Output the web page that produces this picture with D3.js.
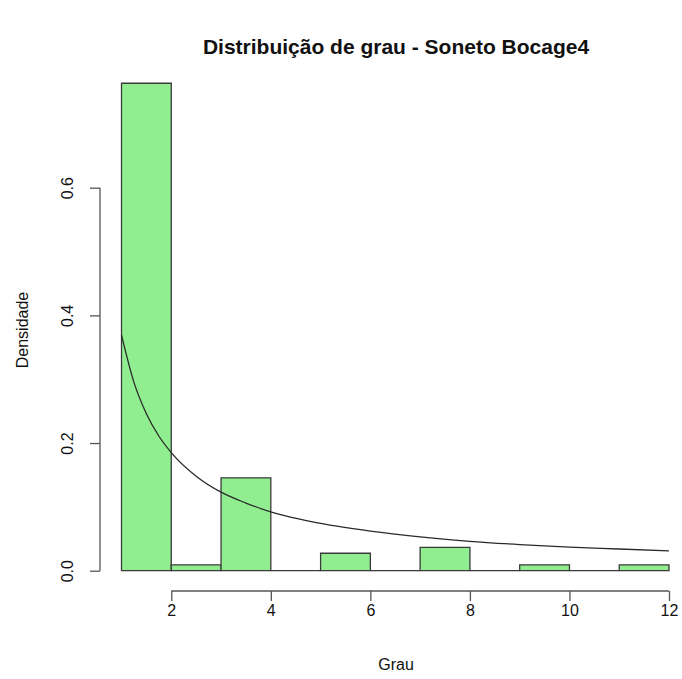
<!DOCTYPE html>
<html>
<head>
<meta charset="utf-8">
<script src="https://cdn.jsdelivr.net/npm/d3@7"></script>
<style>
  body { margin: 0; background: #fff; }
  text { font-family: "Liberation Sans", Arial, sans-serif; fill: #111; }
</style>
</head>
<body>
<div class="canvas"></div>
<script>
// histogram bins (grau) and densities
const binStarts = [1, 2, 3, 4, 5, 6, 7, 8, 9, 10, 11];
const binEnds   = [2, 3, 4, 5, 6, 7, 8, 9, 10, 11, 12];
const densities = [0.7636, 0.0091, 0.1455, 0, 0.0273, 0, 0.0364, 0, 0.0091, 0, 0.0091];

// fitted curve
const curveX = [1, 1.25, 1.5, 1.75, 2, 2.5, 3, 3.5, 4, 5, 6, 7, 8, 9, 10, 11, 12];
const curveY = [0.369, 0.295, 0.246, 0.211, 0.185, 0.148, 0.123, 0.106, 0.092, 0.074, 0.062, 0.053, 0.046, 0.041, 0.037, 0.034, 0.031];

const xTicks = [2, 4, 6, 8, 10, 12];
const yTicks = [0.0, 0.2, 0.4, 0.6];

const width = 682, height = 679;
const font = '"Liberation Sans", Arial, sans-serif';

const svg = d3.select('.canvas')
  .append('svg')
   .attr('width', width)
   .attr('height', height);

const x = d3.scaleLinear()
  .domain([1, 12])
  .range([121.5, 669]);

const y = d3.scaleLinear()
  .domain([0, 0.6])
  .range([570.7, 187.7]);

//bars (drawn as paths so empty bins still show their bottom edge)
const bins = binStarts.map((s, i) => ({ x0: s, x1: binEnds[i], d: densities[i] }));
svg.append('g')
  .selectAll('path')
  .data(bins)
  .enter().append('path')
    .attr('d', b => `M${x(b.x0)},${y(0)}V${y(b.d)}H${x(b.x1)}V${y(0)}Z`)
    .attr('fill', '#90ee90')
    .attr('stroke', '#3a3a3a')
    .attr('stroke-width', 1.3);

//curve
const line = d3.line()
  .x((d, i) => x(curveX[i]))
  .y(d => y(d))
  .curve(d3.curveMonotoneX);

svg.append('path')
  .datum(curveY)
  .attr('fill', 'none')
  .attr('stroke', '#2a2a2a')
  .attr('stroke-width', 1.3)
  .attr('d', line);

//axes
const xAxis = d3.axisBottom(x)
  .tickValues(xTicks)
  .tickSize(10)
  .tickPadding(4)
  .tickSizeOuter(0);

const yAxis = d3.axisLeft(y)
  .tickValues(yTicks)
  .tickFormat(d3.format('.1f'))
  .tickSize(10)
  .tickSizeOuter(0);

const xAxisGroup = svg.append('g')
  .attr('transform', 'translate(0, 591)')
  .call(xAxis);
xAxisGroup.select('.domain').attr('d', `M${x(2)},0H${x(12)}`);

const yAxisGroup = svg.append('g')
  .attr('transform', 'translate(100, 0)')
  .call(yAxis);
yAxisGroup.select('.domain').attr('d', `M0,${y(0)}V${y(0.6)}`);

svg.selectAll('.domain, .tick line')
  .attr('stroke', '#555')
  .attr('stroke-width', 1.3);

xAxisGroup.selectAll('text')
  .attr('font-size', '16px')
  .attr('font-family', font)
  .attr('fill', '#111');

yAxisGroup.selectAll('text')
  .attr('font-size', '16px')
  .attr('font-family', font)
  .attr('fill', '#111')
  .attr('text-anchor', 'middle')
  .attr('x', 0)
  .attr('dy', '0.35em')
  .attr('transform', 'translate(-33, 0) rotate(-90)');

//titles
svg.append('text')
  .attr('x', 396)
  .attr('y', 54)
  .attr('text-anchor', 'middle')
  .attr('font-size', '21px')
  .attr('font-weight', 'bold')
  .text('Distribuição de grau - Soneto Bocage4');

svg.append('text')
  .attr('x', 396)
  .attr('y', 670)
  .attr('text-anchor', 'middle')
  .attr('font-size', '16px')
  .text('Grau');

svg.append('text')
  .attr('transform', 'translate(28, 330) rotate(-90)')
  .attr('text-anchor', 'middle')
  .attr('font-size', '16px')
  .text('Densidade');
</script>
</body>
</html>
